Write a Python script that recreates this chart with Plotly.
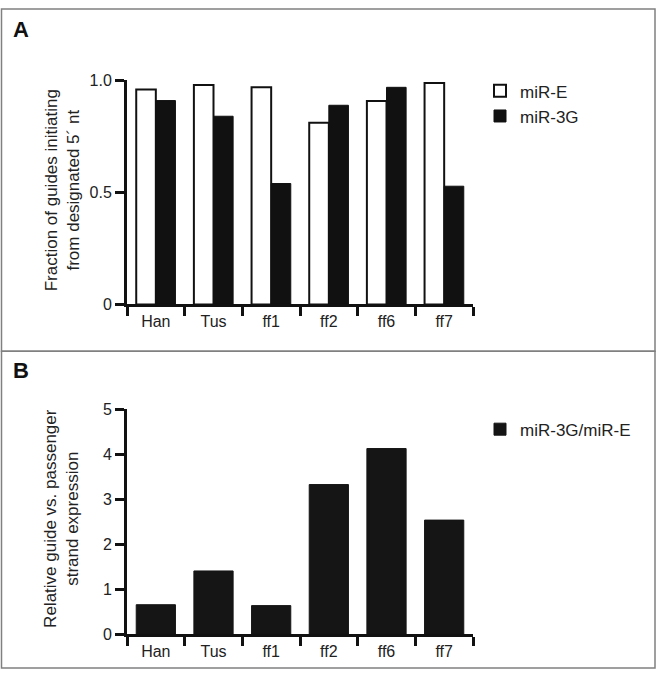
import plotly.graph_objects as go

# values
samples = ["Han", "Tus", "ff1", "ff2", "ff6", "ff7"]
mir_e = [0.958, 0.978, 0.968, 0.81, 0.907, 0.987]
mir_3g = [0.909, 0.839, 0.539, 0.888, 0.968, 0.527]
ratio_3g_e = [0.66, 1.41, 0.64, 3.33, 4.13, 2.54]

W, H = 657, 679
FONT = "Liberation Sans, Arial, Helvetica, sans-serif"
INK = "#111111"


def fx(p):
    return p / W


def fy(p):
    return 1 - p / H


fig = go.Figure()

fig.add_trace(go.Bar(
    x=samples, y=mir_e, name="miR-E",
    marker=dict(color="white", line=dict(color=INK, width=2)),
    xaxis="x", yaxis="y", legend="legend",
))
fig.add_trace(go.Bar(
    x=samples, y=mir_3g, name="miR-3G",
    marker=dict(color=INK, line=dict(color=INK, width=1)),
    xaxis="x", yaxis="y", legend="legend",
))
fig.add_trace(go.Bar(
    x=samples, y=ratio_3g_e, name="miR-3G/miR-E",
    marker=dict(color="#151515", line=dict(color="#151515", width=1)),
    xaxis="x2", yaxis="y2", legend="legend2",
))

axis_style = dict(
    showline=True, linecolor=INK, linewidth=3,
    ticks="outside", tickcolor=INK, tickwidth=3, ticklen=9,
    showgrid=False, zeroline=False,
    tickfont=dict(family=FONT, size=16, color="#222222"),
)

fig.update_layout(
    width=W, height=H,
    margin=dict(l=0, r=0, t=0, b=0),
    paper_bgcolor="white", plot_bgcolor="white",
    font=dict(family=FONT, color="#222222"),
    barmode="group", bargap=0.32, bargroupgap=0,
    xaxis=dict(axis_style, domain=[fx(127), fx(473)], anchor="y",
               type="category", range=[-0.5, 5.5], tickson="boundaries"),
    yaxis=dict(axis_style, domain=[fy(304), fy(74)], anchor="x",
               range=[0, 1], tickvals=[0, 0.5, 1], ticktext=["0", "0.5", "1.0"]),
    xaxis2=dict(axis_style, domain=[fx(127), fx(473)], anchor="y2",
                type="category", range=[-0.5, 5.5], tickson="boundaries"),
    yaxis2=dict(axis_style, domain=[fy(642.5), fy(411.7)], anchor="x2",
                range=[0, 5], tickvals=[0, 1, 2, 3, 4, 5]),
    legend=dict(x=fx(480), y=fy(67), xanchor="left", yanchor="top",
                font=dict(family=FONT, size=17, color="#222222"),
                bgcolor="rgba(0,0,0,0)", tracegroupgap=0),
    legend2=dict(x=fx(480), y=fy(414), xanchor="left", yanchor="top",
                 font=dict(family=FONT, size=17, color="#222222"),
                 bgcolor="rgba(0,0,0,0)"),
    showlegend=True,
)

# panel frames
border = dict(color="#808080", width=1.5)
fig.add_shape(type="rect", xref="paper", yref="paper",
              x0=fx(1.5), x1=fx(655), y0=fy(352), y1=fy(1), line=border)
fig.add_shape(type="rect", xref="paper", yref="paper",
              x0=fx(1.5), x1=fx(655), y0=fy(677), y1=fy(352), line=border)

# panel letters
for letter, ypix in [("A", 22.5), ("B", 372)]:
    fig.add_annotation(text="<b>%s</b>" % letter, xref="paper", yref="paper",
                       x=fx(11), y=fy(ypix), xanchor="left", yanchor="middle",
                       showarrow=False, font=dict(family=FONT, size=22, color=INK))

# y axis titles
fig.add_annotation(text="Fraction of guides initiating<br>from designated 5\u00b4 nt",
                   xref="paper", yref="paper", x=fx(62), y=fy(187),
                   xanchor="center", yanchor="middle", textangle=-90, showarrow=False,
                   font=dict(family=FONT, size=17, color="#222222"))
fig.add_annotation(text="Relative guide vs. passenger<br>strand expression",
                   xref="paper", yref="paper", x=fx(62), y=fy(524),
                   xanchor="center", yanchor="middle", textangle=-90, showarrow=False,
                   font=dict(family=FONT, size=17, color="#222222"))

# drop the default page margin so the figure fills the window exactly
fig.write_html("out.html", config={"displayModeBar": False},
               post_script="document.body.style.margin='0';document.body.style.overflow='hidden';")
